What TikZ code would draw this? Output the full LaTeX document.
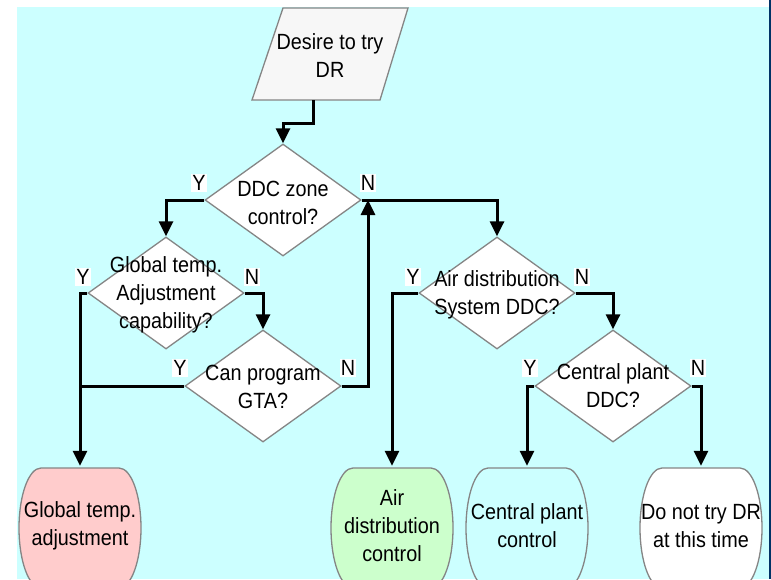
\documentclass[tikz,border=0pt]{standalone}
\usepackage{fontspec}
\setmainfont{Liberation Sans}[FakeStretch=0.9]
\usetikzlibrary{arrows.meta,shapes.geometric,calc}
\definecolor{bgcyan}{HTML}{CCFFFF}
\definecolor{edgegray}{HTML}{858585}
\definecolor{framenavy}{HTML}{003366}
\definecolor{startfill}{HTML}{F7F7F7}
\definecolor{pinkfill}{HTML}{FFCCCC}
\definecolor{greenfill}{HTML}{CCFFCC}
\definecolor{cyanfill}{HTML}{CCFFFF}
% terminal outline: flat top and bottom, half-elliptic sides
\newcommand\termshape[2]{%
  \filldraw[outline, fill=#2] (#1-39,468) -- (#1+39,468)
    arc[start angle=-90, end angle=90, x radius=22, y radius=60]
    -- (#1-39,588)
    arc[start angle=90, end angle=270, x radius=22, y radius=60] -- cycle;}
\begin{document}
\begin{tikzpicture}[x=1pt,y=-1pt,
  txt/.style={font=\fontsize{22}{28}\selectfont, align=center, inner sep=0pt},
  outline/.style={draw=edgegray, line width=1.3pt},
  decision/.style={diamond, outline, fill=white, minimum width=156pt,
    minimum height=112pt, inner sep=0pt},
  endbox/.style={txt, minimum width=122pt, minimum height=120pt},
  yn/.style={fill=white, inner sep=1pt, font=\fontsize{22}{24}\selectfont},
  plain/.style={line width=3pt},
  flow/.style={plain, -{Triangle[width=14pt,length=15pt]}}
]
\useasboundingbox (0,0) rectangle (771,579);
\clip (0,0) rectangle (771,579);
\fill[bgcyan] (17,7) rectangle (769,579);
\fill[framenavy] (769,0) rectangle (771,579);

% start
\filldraw[outline, fill=startfill] (283,8) -- (408,8) -- (380,100) -- (252,100) -- cycle;
\node[txt] (start) at (330,56) {Desire to try\\DR};
\coordinate (startout) at (313,100);

% decisions
\node[decision] (ddc) at (283,200) {};
\node[txt] (ddct) at (283,203) {DDC zone\\control?};
\node[decision] (glob) at (166,293) {};
\node[txt] (globt) at (166,295) {Global temp.\\Adjustment\\capability?};
\node[decision] (gtaq) at (263,386) {};
\node[txt] (gtaqt) at (263,387) {Can program\\GTA?};
\node[decision] (air) at (497,293) {};
\node[txt] (airt) at (497,295) {Air distribution\\System DDC?};
\node[decision] (cp) at (613,386) {};
\node[txt] (cpt) at (613,386) {Central plant\\DDC?};

% outcomes
\termshape{80}{pinkfill}
\node[endbox] (gta) at (80,526) {Global temp.\\adjustment};
\termshape{392}{greenfill}
\node[endbox] (adc) at (392,526) {Air\\distribution\\control};
\termshape{527}{cyanfill}
\node[endbox] (cpc) at (527,526) {Central plant\\control};
\termshape{701}{white}
\node[endbox] (dnt) at (701,526) {Do not try DR\\at this time};

% connectors
\coordinate (merge) at (368,200);
\draw[flow] (startout) -- ++(0,23) -| (ddc.north);
\draw[flow] (ddc.west) -| (glob.north);
\draw[flow] (glob.west) -| (gta.north);
\draw[flow] (glob.east) -| (gtaq.north);
\draw[plain] (gtaq.west) -- (gtaq.west -| gta.north);
\draw[flow] (gtaq.east) -| (merge);
\draw[flow] (ddc.east) -| (air.north);
\draw[flow] (air.west) -| (adc.north);
\draw[flow] (air.east) -| (cp.north);
\draw[flow] (cp.west) -| (cpc.north);
\draw[flow] (cp.east) -| (dnt.north);

% branch labels
\node[yn] (ddcy) at (199,183) {Y};
\node[yn] (ddcn) at (368,183) {N};
\node[yn] (globy) at (83,277) {Y};
\node[yn] (globn) at (252,277) {N};
\node[yn] (gtaqy) at (180,368) {Y};
\node[yn] (gtaqn) at (348,368) {N};
\node[yn] (airy) at (413,277) {Y};
\node[yn] (airn) at (582,277) {N};
\node[yn] (cpy) at (530,368) {Y};
\node[yn] (cpn) at (698,368) {N};
\end{tikzpicture}
\end{document}
